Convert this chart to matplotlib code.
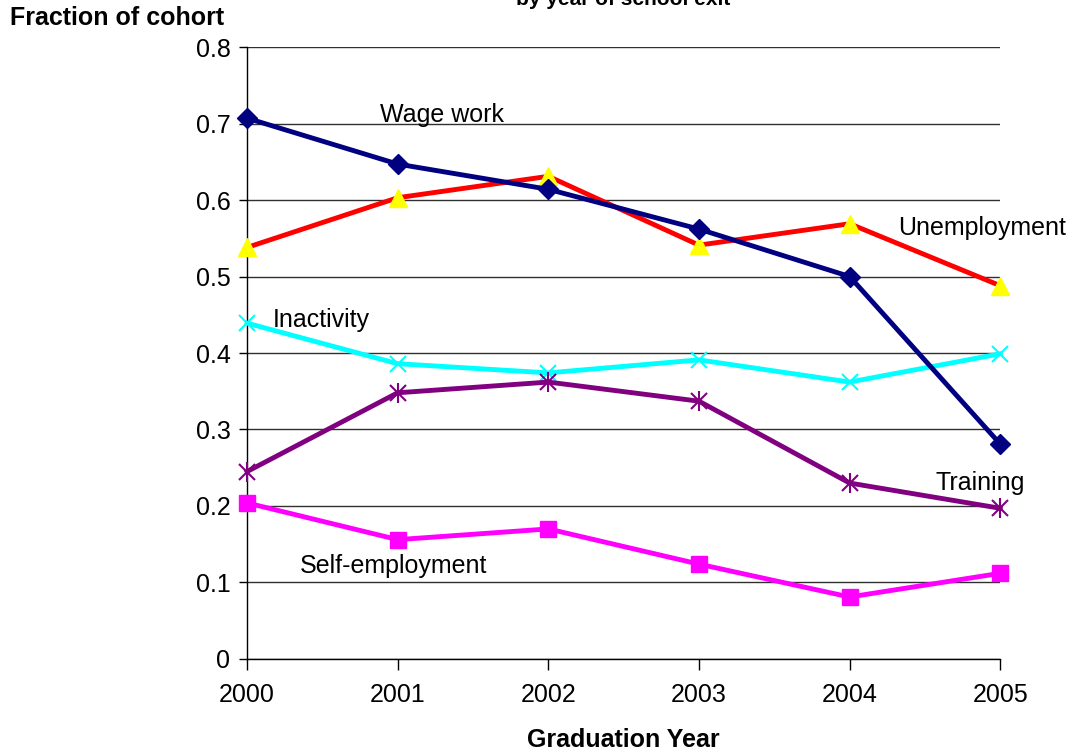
import matplotlib.pyplot as plt
from matplotlib.ticker import FormatStrFormatter

plt.rcParams['font.family'] = ['Liberation Sans', 'DejaVu Sans']

years = [2000, 2001, 2002, 2003, 2004, 2005]
wage_work = [0.707, 0.647, 0.614, 0.562, 0.500, 0.281]
unemployment = [0.538, 0.603, 0.631, 0.541, 0.569, 0.488]
inactivity = [0.439, 0.386, 0.374, 0.391, 0.362, 0.399]
training = [0.245, 0.348, 0.362, 0.337, 0.230, 0.197]
self_employment = [0.204, 0.156, 0.170, 0.124, 0.081, 0.112]

fig = plt.figure(figsize=(10.76, 7.55), dpi=100)
ax = fig.add_axes([0.2296, 0.1272, 0.7, 0.8105])

lw = 3.5
ax.plot(years, wage_work, color='#000080', lw=lw, marker='D', ms=10,
        mec='#000080', mfc='#000080', zorder=4, clip_on=False)
ax.plot(years, unemployment, color='#FF0000', lw=lw, marker='^', ms=13,
        mfc='#FFFF00', mec='#FFFF00', zorder=3, clip_on=False)
ax.plot(years, inactivity, color='#00FFFF', lw=lw, marker='x', ms=12,
        mew=1.5, mec='#00FFFF', zorder=3, clip_on=False)
# star marker: an x with a vertical stroke through it
ax.plot(years, training, color='#800080', lw=lw, marker='x', ms=12,
        mew=1.5, mec='#800080', zorder=3, clip_on=False)
ax.plot(years, training, ls='none', marker='|', ms=14, mew=1.5,
        mec='#800080', zorder=3, clip_on=False)
ax.plot(years, self_employment, color='#FF00FF', lw=lw, marker='s', ms=12,
        mfc='#FF00FF', mec='#FF00FF', zorder=3, clip_on=False)

lbl = dict(fontsize=18, color='black', va='center', ha='left')
ax.text(2000.88, 0.711, 'Wage work', **lbl)
ax.text(2004.32, 0.563, 'Unemployment', **lbl)
ax.text(2000.17, 0.443, 'Inactivity', **lbl)
ax.text(2004.57, 0.230, 'Training', **lbl)
ax.text(2000.35, 0.122, 'Self-employment', **lbl)

ax.set_xlim(2000, 2005)
ax.set_ylim(0, 0.8)
ax.set_xticks(years)
ax.set_yticks([0, 0.1, 0.2, 0.3, 0.4, 0.5, 0.6, 0.7, 0.8])
ax.yaxis.set_major_formatter(FormatStrFormatter('%g'))
ax.tick_params(axis='both', labelsize=18, colors='black', width=1)
ax.tick_params(axis='x', length=8, pad=9)
ax.tick_params(axis='y', length=6, pad=6)
ax.grid(axis='y', color='#303030', lw=1)
ax.set_axisbelow(True)
for side in ['top', 'right']:
    ax.spines[side].set_visible(False)
for side in ['left', 'bottom']:
    ax.spines[side].set_color('black')
    ax.spines[side].set_linewidth(1)

fig.text(0.009, 0.976, 'Fraction of cohort', fontsize=18, fontweight='bold',
         ha='left', va='center')
fig.text(0.579, 0.020, 'Graduation Year', fontsize=18, fontweight='bold',
         ha='center', va='center')
fig.text(0.579, 0.993, 'by year of school exit', fontsize=15, fontweight='bold',
         ha='center', va='baseline')

fig.savefig('out.png', dpi=100)
